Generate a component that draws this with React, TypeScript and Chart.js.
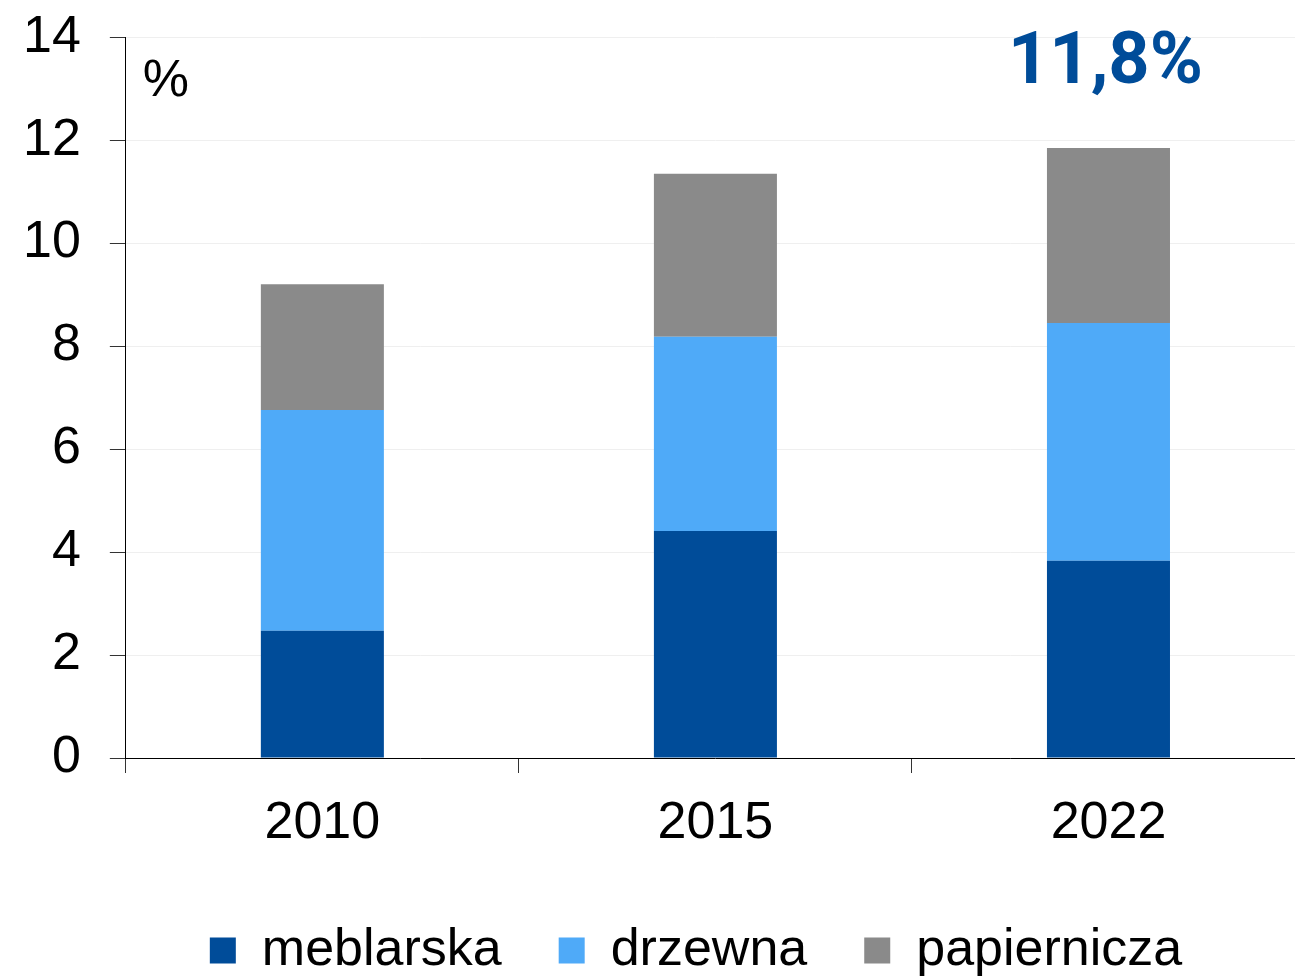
import { useEffect, useRef } from "react";
import { Chart, registerables } from "chart.js";

Chart.register(...registerables);

const categories = ["2010", "2015", "2022"];
const meblarska = [2.47, 4.41, 3.83];
const drzewna = [4.29, 3.77, 4.62];
const papiernicza = [2.44, 3.17, 3.4];
const seriesNames = ["meblarska", "drzewna", "papiernicza"];
const seriesColors = ["#004C99", "#4FAAF8", "#8A8A8A"];
const yMin = 0;
const yMax = 14;
const yStep = 2;
const unitLabel = "%";
const totalLabel = "11,8%";
const totalCategoryIndex = 2;

const OFFSET_X = -6;
const OFFSET_Y = -23;
const W = 1316;
const H = 1016;
const LEGEND_CENTER = 696 - OFFSET_X;

export default function App() {
  const ref = useRef<HTMLCanvasElement | null>(null);

  useEffect(() => {
    document.body.style.overflow = "hidden";
    const canvas = ref.current;
    if (!canvas) return;
    Chart.defaults.font.family = "'Liberation Sans', Arial, sans-serif";

    const annotations = {
      id: "annotations",
      afterLayout(chart: any) {
        const lg = chart.legend;
        if (lg) {
          const right = lg.right;
          const left = 2 * LEGEND_CENTER - right;
          lg.left = left;
          lg.width = right - left;
          lg.top -= 6;
          lg.bottom -= 6;
        }
      },
      afterDraw(chart: any) {
        const { ctx, chartArea, scales } = chart;
        ctx.save();
        ctx.fillStyle = "#000";
        ctx.font = "52px 'Liberation Sans', Arial, sans-serif";
        ctx.textAlign = "left";
        ctx.textBaseline = "alphabetic";
        ctx.fillText(unitLabel, chartArea.left + 17, chartArea.top + 59);
        ctx.fillStyle = "#004C99";
        ctx.font = "bold 72px Roboto, 'Liberation Sans', sans-serif";
        ctx.textAlign = "center";
        ctx.fillText(
          totalLabel,
          scales.x.getPixelForValue(totalCategoryIndex) - 3,
          chartArea.top + 46
        );
        ctx.restore();
      },
    };

    const data = [meblarska, drzewna, papiernicza];

    const chart = new Chart(canvas, {
      type: "bar",
      data: {
        labels: categories,
        datasets: data.map((d, i) => ({
          label: seriesNames[i],
          data: d,
          backgroundColor: seriesColors[i],
          borderColor: seriesColors[i],
          borderWidth: 0,
          barPercentage: 0.313,
          categoryPercentage: 1,
        })),
      },
      options: {
        responsive: false,
        animation: false,
        devicePixelRatio: 1,
        layout: { padding: { left: 0, top: 0, right: 5, bottom: 0.6 } },
        plugins: {
          tooltip: { enabled: false },
          legend: {
            position: "bottom",
            labels: {
              boxWidth: 26,
              boxHeight: 26,
              padding: 57,
              color: "#000",
              font: { size: 52, family: "'Liberation Sans', Arial, sans-serif" },
            },
          },
        },
        scales: {
          x: {
            stacked: true,
            grid: {
              display: true,
              drawOnChartArea: false,
              drawTicks: true,
              tickLength: 15,
              tickColor: "#333",
              offset: true,
            },
            border: { display: true, color: "#000", width: 1 },
            ticks: {
              color: "#000",
              padding: 19,
              font: { size: 52 },
              maxRotation: 0,
            },
          },
          y: {
            stacked: true,
            min: yMin,
            max: yMax,
            grid: {
              color: "#efefef",
              tickColor: "#333",
              tickLength: 16,
              drawTicks: true,
            },
            border: { display: true, color: "#000", width: 1 },
            ticks: {
              stepSize: yStep,
              color: "#000",
              padding: 29,
              font: { size: 52 },
            },
          },
        },
      },
      plugins: [annotations],
    });

    return () => chart.destroy();
  }, []);

  return (
    <div style={{ position: "fixed", left: OFFSET_X, top: OFFSET_Y, width: W, height: H }}>
      <canvas ref={ref} width={W} height={H} style={{ display: "block" }} />
    </div>
  );
}
